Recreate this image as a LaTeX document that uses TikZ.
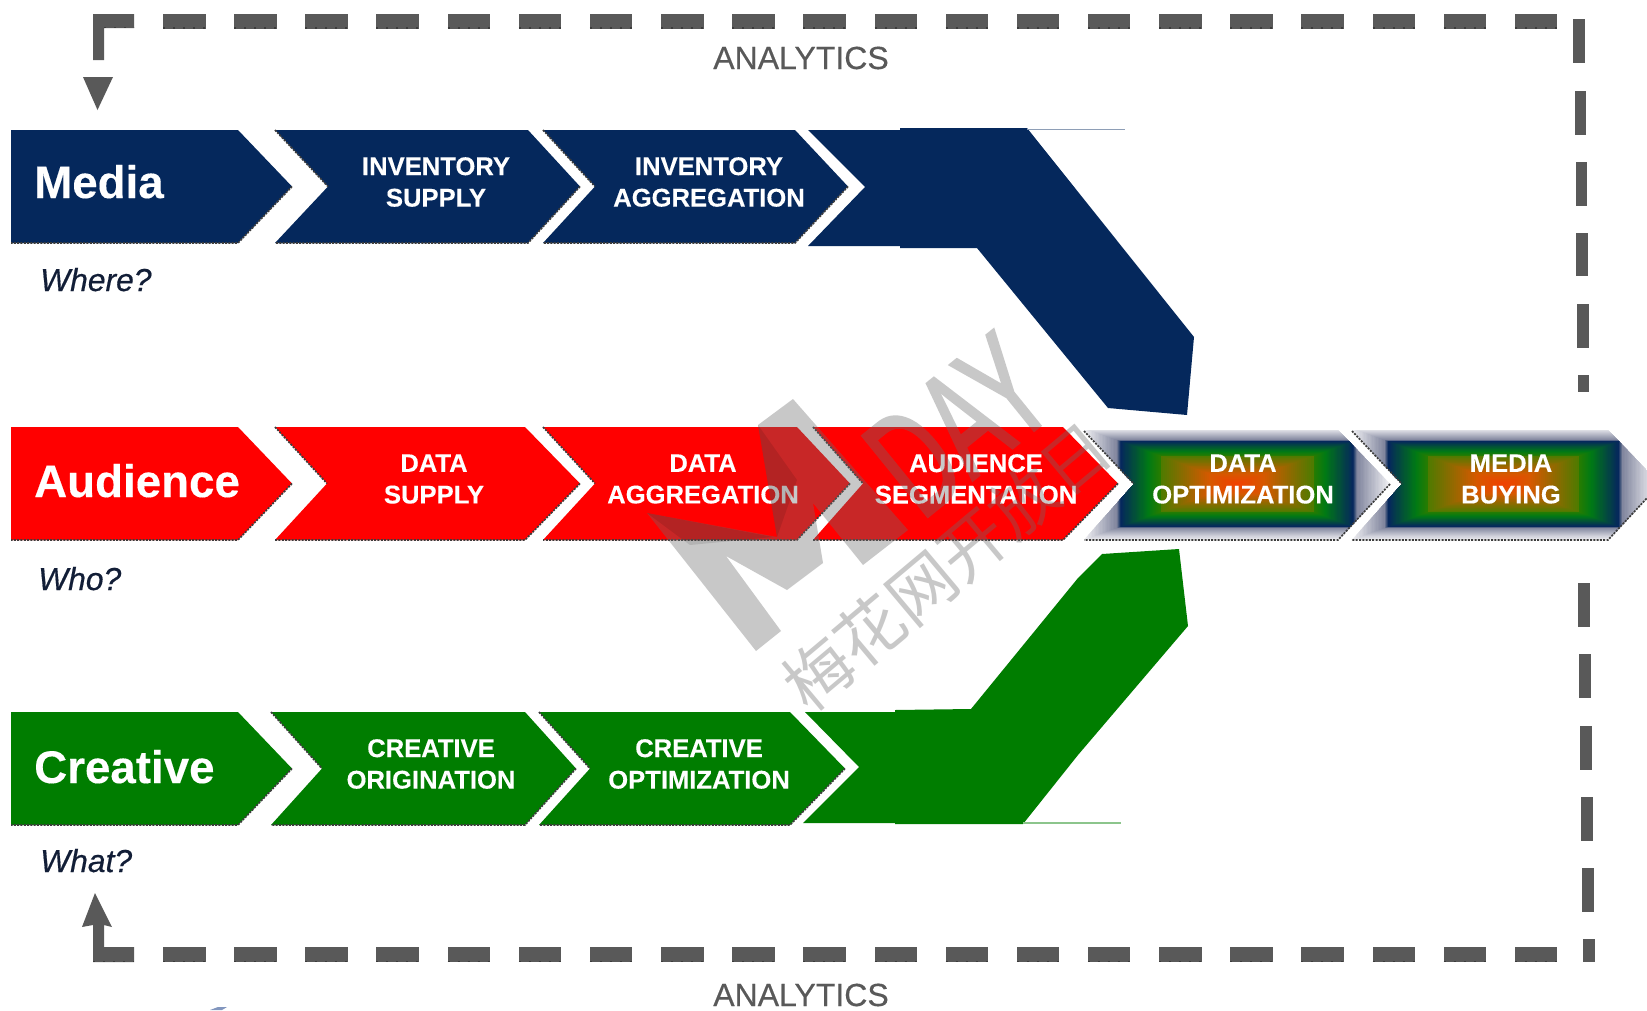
\documentclass[tikz,border=0pt]{standalone}
\usepackage{fontspec}
\usepackage{graphicx}
\setmainfont[BoldFeatures={FakeBold=0.25}]{Liberation Sans}
\newfontfamily\askfont[ItalicFeatures={FakeBold=0.5}]{Liberation Sans}
\newfontfamily\anfont[FakeBold=0.35]{Liberation Sans}
\newfontfamily\wmfont[FakeBold=2.2]{Liberation Sans}
\newfontfamily\cjkfont{Noto Sans CJK SC}
\definecolor{navyc}{RGB}{5,40,92}
\definecolor{redc}{RGB}{255,0,0}
\definecolor{greenc}{RGB}{0,125,0}
\definecolor{framec}{RGB}{89,89,89}
\definecolor{dotc}{RGB}{60,60,60}
\definecolor{askc}{RGB}{18,30,55}
\definecolor{oliveA}{RGB}{80,122,0}
\definecolor{orangeA}{RGB}{215,88,0}
\definecolor{redA}{RGB}{240,65,0}
\definecolor{greenB}{RGB}{0,122,20}
\definecolor{greenC}{RGB}{40,124,0}
\definecolor{edgeG}{RGB}{240,240,243}
\definecolor{edgeH}{RGB}{125,130,155}
\definecolor{wmc}{RGB}{108,108,108}
\definecolor{sliverc}{RGB}{130,150,190}
\tikzset{
  edgedots/.style={dotc,line width=1.7pt,dash pattern=on 2pt off 1.3pt},
  framedots/.style={dotc,line width=1.2pt,dash pattern=on 2pt off 8pt},
  stagetext/.style={text=white,font=\bfseries\fontsize{25.6}{31.5}\selectfont,align=center,anchor=center,inner sep=0pt},
  rowtext/.style={text=white,font=\bfseries\fontsize{45.7}{50}\selectfont,anchor=base west,inner sep=0pt},
  asktext/.style={text=askc,font=\askfont\itshape\fontsize{31.8}{36}\selectfont,anchor=base west,inner sep=0pt},
  analytics/.style={text=framec,font=\anfont\fontsize{32}{36}\selectfont,anchor=base,inner sep=0pt},
}
% #1 colour, #2 left, #3 shoulder, #4 tip, #5 top, #6 bottom
\newcommand\firstchev[6]{%
  \fill[#1] (#2,#5)--(#3,#5)--(#4,{(#5+#6)/2})--(#3,#6)--(#2,#6)--cycle;
  \draw[edgedots] (#4,{(#5+#6)/2})--(#3,#6)--(#2,#6);
}
% #1 colour, #2 start, #3 notch, #4 shoulder, #5 tip, #6 top, #7 bottom
\newcommand\notchchev[7]{%
  \fill[#1] (#2,#6)--(#4,#6)--(#5,{(#6+#7)/2})--(#4,#7)--(#2,#7)--(#3,{(#6+#7)/2})--cycle;
  \draw[edgedots] (#2,#6)--(#3,{(#6+#7)/2});
  \draw[edgedots] (#5,{(#6+#7)/2})--(#4,#7)--(#2,#7);
}
% nested rectangles: centre #1 #2, half sizes #3 #4, t from #5 to #6, colours #7 to #8
\newcommand\gradseg[8]{%
  \foreach \i in {0,...,24}{%
    \pgfmathsetmacro\tt{#5+(#6-#5)*\i/24}%
    \pgfmathsetmacro\pp{100*\i/24}%
    \fill[#8!\pp!#7] ({#1-#3*\tt},{#2-#4*\tt}) rectangle ({#1+#3*\tt},{#2+#4*\tt});
  }%
}
\newcommand\gradchev[5]{% start notch shoulder tip bboxright
  \begin{scope}
    \clip (#1,430)--(#3,430)--(#4,484)--(#3,540)--(#1,540)--(#2,484)--cycle;
    \pgfmathsetmacro\cx{(#1+#5)/2}\pgfmathsetmacro\hw{(#5-#1)/2}
    \fill[edgeG] (#1,425) rectangle (#5,545);
    \gradseg{\cx}{484}{\hw}{56}{1}{.785}{edgeG}{edgeH}
    \gradseg{\cx}{484}{\hw}{56}{.785}{.76}{edgeH}{navyc}
    \gradseg{\cx}{484}{\hw}{56}{.76}{.58}{navyc}{greenB}
    \gradseg{\cx}{484}{\hw}{56}{.58}{.5}{greenB}{greenC}
    \gradseg{\cx}{484}{\hw}{56}{.5}{.18}{oliveA}{orangeA}
    \gradseg{\cx}{484}{\hw}{56}{.18}{.01}{orangeA}{redA}
  \end{scope}
  \draw[edgedots] (#1,431)--(#2,484);
  \draw[edgedots] (#4,484)--(#3,540)--(#1,540);
}
\begin{document}
\begin{tikzpicture}[x=1pt,y=-1pt]
\useasboundingbox (0,0) rectangle (1647,1010);
\fill[white] (0,0) rectangle (1647,1010);

% Media row
\firstchev{navyc}{11}{238}{292}{130}{243}
\notchchev{navyc}{275}{328}{528}{580}{130}{243}
\notchchev{navyc}{543}{595}{795}{848}{130}{243}
\fill[navyc] (808,130)--(900,130)--(900,128)--(1027,128)--(1194,337)--(1187,415)--(1108,408)--(977,248)--(900,248)--(900,246)--(808,246)--(865,187)--cycle;
\draw[color=navyc!45,line width=1pt] (1027,129.5)--(1125,129.5);

% Audience row
\firstchev{redc}{11}{238}{292}{427}{540}
\notchchev{redc}{275}{327}{525}{580}{427}{540}
\notchchev{redc}{543}{595}{797}{850}{427}{540}
\notchchev{redc}{813}{863}{1063}{1118}{427}{540}
\gradchev{1084}{1134}{1338}{1390}{1390}
\gradchev{1352}{1402}{1608}{1660}{1655}

% Creative row
\firstchev{greenc}{11}{238}{292}{712}{825}
\notchchev{greenc}{271}{322}{525}{576}{712}{825}
\notchchev{greenc}{539}{590}{790}{845}{712}{825}
\fill[greenc] (805,712)--(895,712)--(895,710)--(971,709)--(1078,578)--(1102,554)--(1179,549)--(1188,626)--(1078,755)--(1023,824)--(895,824)--(895,823)--(803,823)--(859,767)--cycle;
\draw[color=greenc!45,line width=1.2pt] (1023,823)--(1121,823);

% Row titles and questions
\node[rowtext] (media) at (34,198) {Media};
\node[rowtext] (audience) at (34,497) {Audience};
\node[rowtext] (creative) at (34,783) {Creative};
\node[asktext] (where) at (40,291) {Where?};
\node[asktext] (who) at (38,590) {Who?};
\node[asktext] (what) at (40,872) {What?};

% Stage labels
\node[stagetext] (s1) at (436,182) {INVENTORY\\SUPPLY};
\node[stagetext] (s2) at (709,182) {INVENTORY\\AGGREGATION};
\node[stagetext] (s3) at (434,479) {DATA\\SUPPLY};
\node[stagetext] (s4) at (703,479) {DATA\\AGGREGATION};
\node[stagetext] (s5) at (976,479) {AUDIENCE\\SEGMENTATION};
\node[stagetext] (s6) at (1243,479) {DATA\\OPTIMIZATION};
\node[stagetext] (s7) at (1511,479) {MEDIA\\BUYING};
\node[stagetext] (s8) at (431,764) {CREATIVE\\ORIGINATION};
\node[stagetext] (s9) at (699,764) {CREATIVE\\OPTIMIZATION};

% Analytics loop
\node[analytics] (an1) at (801,69) {ANALYTICS};
\node[analytics] (an2) at (801,1006) {ANALYTICS};
\fill[framec] (93,14)--(134,14)--(134,28)--(104,28)--(104,60)--(93,60)--cycle;
\fill[framec] (83,77)--(113,77)--(97.5,110)--cycle;
\fill[framec] (95,893)--(112,927)--(104,925)--(104,947)--(134,947)--(134,962)--(93,962)--(93,925)--(82,927)--cycle;
\draw[framedots] (104,27.5)--(134,27.5);
\draw[framedots] (93,961.5)--(134,961.5);
\foreach \k in {0,...,19}{
  \fill[framec] ({163+71.15*\k},14) rectangle ({205.5+71.15*\k},28.5);
  \fill[framec] ({163+71.15*\k},947) rectangle ({205.5+71.15*\k},962);
  \draw[framedots] ({163+71.15*\k},28)--({205.5+71.15*\k},28);
  \draw[framedots] ({163+71.15*\k},961.5)--({205.5+71.15*\k},961.5);
}
\foreach \cxx/\ya/\yb in {1579/19/63,1580.7/91/135,1581.7/162/206,1582/233/276,1583/304/348,1583.7/375/392,1584/583/627,1585/654/698,1586/726/770,1587/797/841,1588/868/912,1589/939/962}{
  \fill[framec] ({\cxx-5.7},\ya) rectangle ({\cxx+5.7},\yb);
}
\fill[sliverc] (210,1010)--(218,1007)--(227,1007)--(222,1010)--cycle;

% Watermark
\begin{scope}[transparency group,opacity=.37]
\fill[wmc] (647,513)--(756,651)--(781,631)--(726,556)--(787,590)--(823,563)--(813,503)--(863,565)--(908,530)--(793,399)--(758,425)--(777,537)--cycle;
\node[text=wmc,rotate=39,anchor=base,inner sep=0pt] (wmday) at (991,465) {\scalebox{.6}[1]{\wmfont\fontsize{150}{150}\selectfont DAY}};
\node[text=wmc,rotate=40,anchor=center,inner sep=0pt] (wmcn) at (947,566) {\cjkfont\fontsize{67}{67}\selectfont 梅花网开放日};
\end{scope}
\fill[black,opacity=.1] (758,425)--(777,537)--(797,480)--cycle;
\fill[black,opacity=.1] (647,513)--(773,537)--(690,545)--cycle;
\end{tikzpicture}
\end{document}
